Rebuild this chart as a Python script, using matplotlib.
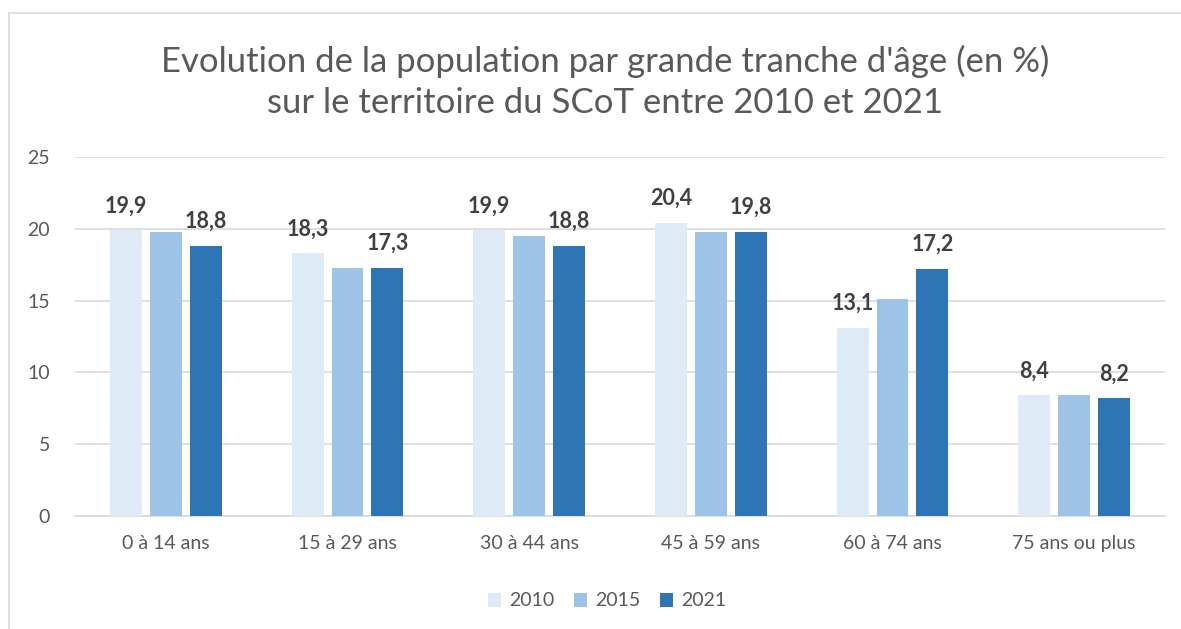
import matplotlib

matplotlib.use("Agg")
import matplotlib.pyplot as plt
import numpy as np
from matplotlib.patches import Rectangle

categories = ["0 à 14 ans", "15 à 29 ans", "30 à 44 ans", "45 à 59 ans", "60 à 74 ans", "75 ans ou plus"]
years = ["2010", "2015", "2021"]
vals_2010 = [19.9, 18.3, 19.9, 20.4, 13.1, 8.4]
vals_2015 = [19.8, 17.3, 19.5, 19.8, 15.1, 8.4]
vals_2021 = [18.8, 17.3, 18.8, 19.8, 17.2, 8.2]
yticks = [0, 5, 10, 15, 20, 25]

colors = ["#DEEBF7", "#9DC3E6", "#2E75B6"]
series = [vals_2010, vals_2015, vals_2021]
labelled = [True, False, True]

plt.rcParams["font.family"] = ["Lato", "DejaVu Sans"]

fig = plt.figure(figsize=(11.81, 6.29), dpi=100)
ax = fig.add_axes([75 / 1181, 1 - 516 / 629, 1090 / 1181, 359 / 629])

x = np.arange(len(categories))
width = 0.176
step = 0.22
for i, (vals, col, lab) in enumerate(zip(series, colors, labelled)):
    pos = x + (i - 1) * step
    bars = ax.bar(pos, vals, width=width, color=col, label=years[i], zorder=3)
    if lab:
        for b, v in zip(bars, vals):
            ax.annotate(f"{v:.1f}".replace(".", ","), (b.get_x() + b.get_width() / 2, v),
                        xytext=(0, 10), textcoords="offset points", ha="center", va="bottom",
                        fontsize=15.5, fontweight="bold", color="#404040")

ax.set_xlim(-0.5, len(categories) - 0.5)
ax.set_ylim(0, 25)
ax.set_yticks(yticks)
ax.set_xticks(x)
ax.set_xticklabels(categories)
ax.grid(axis="y", color="#D9D9D9", linewidth=1.2, zorder=0)
for s in ["top", "right", "left"]:
    ax.spines[s].set_visible(False)
ax.spines["bottom"].set_color("#D9D9D9")
ax.spines["bottom"].set_linewidth(1.2)
ax.tick_params(axis="both", length=0, labelsize=14, colors="#595959")
ax.tick_params(axis="x", pad=14)
ax.tick_params(axis="y", pad=18)

fig.text(605 / 1181, 1 - 82 / 629,
         "Evolution de la population par grande tranche d'âge (en %)\nsur le territoire du SCoT entre 2010 et 2021",
         ha="center", va="center", fontsize=25, color="#595959", linespacing=1.35)

handles, labels = ax.get_legend_handles_labels()
fig.legend(handles, labels, loc="center", bbox_to_anchor=(607 / 1181, 1 - 601 / 629), ncol=3,
           frameon=False, fontsize=14, labelcolor="#595959", handlelength=0.7, handleheight=0.7,
           handletextpad=0.4, columnspacing=1.0)

fig.patches.append(Rectangle((9 / 1181, -0.05), 1.1, 1 - 13 / 629 + 0.05, transform=fig.transFigure,
                             fill=False, edgecolor="#D9D9D9", linewidth=1.2))

fig.savefig("out.png", dpi=100)
